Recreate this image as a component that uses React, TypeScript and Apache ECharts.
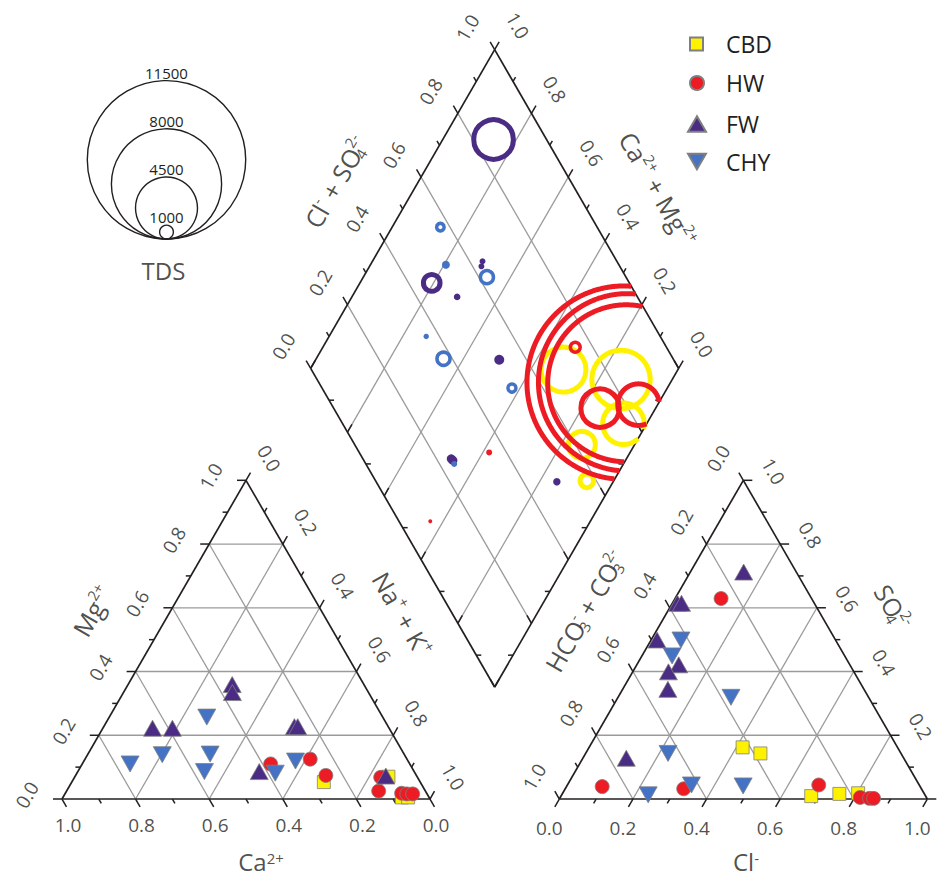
import React, { useEffect, useRef } from "react";
import * as echarts from "echarts";

// ---------------- DATA ----------------
const GROUPS = ["CBD", "HW", "FW", "CHY"];

// Cation triangle: [Ca2+, Mg2+, Na+ + K+] (fractions)
const CBD_CATIONS = [[0.262, 0.053, 0.685], [0.078, 0.070, 0.852], [0.074, 0.005, 0.921], [0.057, 0.005, 0.938]];
const HW_CATIONS = [[0.378, 0.110, 0.512], [0.263, 0.125, 0.612], [0.246, 0.074, 0.680], [0.100, 0.068, 0.832], [0.127, 0.025, 0.848], [0.068, 0.018, 0.914], [0.055, 0.016, 0.929], [0.039, 0.016, 0.945]];
const FW_CATIONS = [[0.358, 0.359, 0.283], [0.370, 0.334, 0.296], [0.643, 0.222, 0.135], [0.589, 0.222, 0.189], [0.255, 0.227, 0.518], [0.246, 0.227, 0.527], [0.421, 0.086, 0.493], [0.084, 0.072, 0.844]];
const CHY_CATIONS = [[0.478, 0.257, 0.265], [0.760, 0.110, 0.130], [0.658, 0.139, 0.203], [0.527, 0.141, 0.332], [0.570, 0.086, 0.344], [0.306, 0.119, 0.575], [0.380, 0.081, 0.539]];

// Anion triangle: [HCO3- + CO3 2-, SO4 2-, Cl-]
const CBD_ANIONS = [[0.421, 0.162, 0.417], [0.382, 0.143, 0.475], [0.311, 0.009, 0.680], [0.231, 0.016, 0.753], [0.179, 0.018, 0.803]];
const HW_ANIONS = [[0.246, 0.629, 0.125], [0.864, 0.039, 0.097], [0.646, 0.032, 0.322], [0.273, 0.044, 0.683], [0.180, 0.005, 0.815], [0.156, 0.002, 0.842], [0.145, 0.002, 0.853]];
const FW_ANIONS = [[0.143, 0.712, 0.145], [0.372, 0.614, 0.014], [0.361, 0.614, 0.025], [0.485, 0.499, 0.016], [0.465, 0.421, 0.114], [0.504, 0.399, 0.097], [0.533, 0.344, 0.123], [0.754, 0.128, 0.118]];
const CHY_ANIONS = [[0.420, 0.499, 0.081], [0.469, 0.449, 0.082], [0.374, 0.319, 0.307], [0.633, 0.143, 0.224], [0.752, 0.013, 0.235], [0.619, 0.044, 0.337], [0.480, 0.041, 0.479]];

// Diamond: [Cl- + SO4 2-, Ca2+ + Mg2+, TDS (mg/L)]
const CBD_DIAMOND = [[0.685, 0.311, 3630], [0.826, 0.139, 4600], [0.763, 0.063, 3380], [0.617, 0.143, 2320], [0.574, 0.073, 1350]];
const HW_DIAMOND = [[0.828, 0.127, 14400], [0.838, 0.118, 13240], [0.834, 0.119, 11760], [0.724, 0.151, 3150], [0.834, 0.052, 3380], [0.752, 0.314, 970], [0.353, 0.383, 435], [0.085, 0.435, 290]];
const FW_DIAMOND = [[0.856, 0.862, 3240], [0.463, 0.805, 1570], [0.635, 0.701, 435], [0.624, 0.696, 435], [0.510, 0.714, 480], [0.526, 0.501, 725], [0.240, 0.476, 650], [0.242, 0.469, 650], [0.491, 0.153, 540]];
const CHY_DIAMOND = [[0.574, 0.869, 800], [0.530, 0.795, 580], [0.622, 0.664, 1205], [0.364, 0.736, 390], [0.376, 0.654, 1205], [0.516, 0.422, 840], [0.240, 0.460, 435]];

const TDS_LEVELS = [1000, 4500, 8000, 11500];

const TICK_LABELS = [0, 0.2, 0.4, 0.6, 0.8, 1.0];
const TICK_STEPS = [0, 0.1, 0.2, 0.3, 0.4, 0.5, 0.6, 0.7, 0.8, 0.9, 1.0];
const GRID_VALUES = [0.2, 0.4, 0.6, 0.8];

// ---------------- STYLE / GEOMETRY ----------------
const FONT = "'Open Sans', 'Noto Sans', 'DejaVu Sans', sans-serif";
const INK = "#231F20";
const GRID_GRAY = "#9B9B9B";
const COLORS: any = { CBD: "#FFF200", HW: "#ED1C24", FW: "#4B2C85", CHY: "#4472C4" };

const WIDTH = 938, HEIGHT = 877;
const S = 368; // pixels per unit side
const OX = 62, OY = 799; // pixel position of the cation triangle's lower-left corner
const G = 0.3514; // gap between triangles (in side units)
const H = Math.sqrt(3) / 2;
const TDS_PX = 79.2 / 11500; // radius in px per mg/L

const cat = (ca: number, mg: number, na: number) => [na + 0.5 * mg, H * mg];
const an = (hco3: number, so4: number, cl: number) => [1 + G + cl + 0.5 * so4, H * so4];
const BX = 1 + G / 2, BY = G * H;
const dia = (a: number, b: number) => [BX + 0.5 * (a - b), BY + H * (a + b)];
const px2u = (x: number, y: number) => [(x - OX) / S, (OY - y) / S];
const off = (p: number[], dx: number, dy: number) => [p[0] + dx / S, p[1] - dy / S];

function insidePoly(poly: number[][], x: number, y: number) {
  let sign = 0;
  for (let i = 0; i < poly.length; i++) {
    const [x1, y1] = poly[i];
    const [x2, y2] = poly[(i + 1) % poly.length];
    const cr = (x2 - x1) * (y - y1) - (y2 - y1) * (x - x1);
    if (cr !== 0) {
      const s = cr > 0 ? 1 : -1;
      if (sign === 0) sign = s;
      else if (s !== sign) return false;
    }
  }
  return true;
}

function buildOption() {
  const gridSegs: number[][] = [];
  const outlineSegs: number[][] = [];
  const tickSegs: number[][] = [];

  GRID_VALUES.forEach((v) => {
    gridSegs.push([...cat(1 - v, v, 0), ...cat(0, v, 1 - v)]);
    gridSegs.push([...cat(1 - v, 0, v), ...cat(0, 1 - v, v)]);
    gridSegs.push([...cat(v, 1 - v, 0), ...cat(v, 0, 1 - v)]);
    gridSegs.push([...an(1 - v, v, 0), ...an(0, v, 1 - v)]);
    gridSegs.push([...an(1 - v, 0, v), ...an(0, 1 - v, v)]);
    gridSegs.push([...an(v, 1 - v, 0), ...an(v, 0, 1 - v)]);
    gridSegs.push([...dia(v, 0), ...dia(v, 1)]);
    gridSegs.push([...dia(0, v), ...dia(1, v)]);
  });

  const polyline = (pts: number[][]) => {
    for (let i = 0; i < pts.length - 1; i++) outlineSegs.push([...pts[i], ...pts[i + 1]]);
  };
  polyline([cat(1, 0, 0), cat(0, 0, 1), cat(0, 1, 0), cat(1, 0, 0)]);
  polyline([an(1, 0, 0), an(0, 0, 1), an(0, 1, 0), an(1, 0, 0)]);
  polyline([dia(0, 0), dia(1, 0), dia(1, 1), dia(0, 1), dia(0, 0)]);

  const addTicks = (fn: (v: number) => number[], dir: number[], minorDir?: number[]) => {
    TICK_STEPS.forEach((v, i) => {
      const major = i % 2 === 0;
      const len = (major ? 9 : 5) / S;
      const d = !major && minorDir ? minorDir : dir;
      const p = fn(v);
      tickSegs.push([p[0], p[1], p[0] + d[0] * len, p[1] + d[1] * len]);
    });
  };
  addTicks((v) => cat(v, 0, 1 - v), [0.5, -H]);
  addTicks((v) => cat(1 - v, v, 0), [-1, 0]);
  addTicks((v) => cat(0, 1 - v, v), [0.5, H]);
  addTicks((v) => an(1 - v, 0, v), [-0.5, -H]);
  addTicks((v) => an(v, 1 - v, 0), [-0.5, H]);
  addTicks((v) => an(0, v, 1 - v), [1, 0]);
  addTicks((v) => dia(v, 1), [-0.5, H]);
  addTicks((v) => dia(1, v), [0.5, H]);
  addTicks((v) => dia(0, v), [0.5, H], [1, 0]);
  addTicks((v) => dia(v, 0), [-0.5, H], [-1, 0]);

  const segSeries = (data: number[][], stroke: string, lw: number, z: number) => ({
    type: "custom",
    coordinateSystem: "cartesian2d",
    silent: true,
    clip: false,
    z,
    encode: { x: [0, 2], y: [1, 3] },
    data,
    renderItem: (_p: any, api: any) => {
      const a = api.coord([api.value(0), api.value(1)]);
      const b = api.coord([api.value(2), api.value(3)]);
      return {
        type: "line",
        shape: { x1: a[0], y1: a[1], x2: b[0], y2: b[1] },
        style: { stroke, lineWidth: lw, lineCap: "butt" },
      };
    },
  });

  // labels
  const labels: any[] = [];
  const addTickLabels = (fn: (v: number) => number[], dx: number, dy: number, rot: number, skipZero = false) => {
    TICK_LABELS.forEach((v) => {
      if (skipZero && v === 0) return;
      labels.push({ pos: off(fn(v), dx, dy), text: v.toFixed(1), rot });
    });
  };
  addTickLabels((v) => cat(v, 0, 1 - v), 6, 26, 0);
  addTickLabels((v) => cat(1 - v, v, 0), -35, -4, 60);
  addTickLabels((v) => cat(0, 1 - v, v), 23, -22, -60);
  addTickLabels((v) => an(1 - v, 0, v), -10, 29, 0);
  addTickLabels((v) => an(v, 1 - v, 0), -25, -22, 60);
  addTickLabels((v) => an(0, v, 1 - v), 30, -9, -60, true);
  addTickLabels((v) => dia(v, 1), -27, -22, 60);
  addTickLabels((v) => dia(1, v), 23, -24, -60);

  const titles = [
    { pos: px2u(261, 861), text: "{n|Ca}{q|2+}", rot: 0 },
    { pos: px2u(746, 861), text: "{n|Cl}{q|-}", rot: 0 },
    { pos: px2u(92.5, 611), text: "{m|Mg}{p|2+}", rot: 60 },
    { pos: px2u(402.5, 614), text: "{m|Na}{p|+}{m| + K}{p|+}", rot: -60 },
    { pos: px2u(585, 611), text: "{m|HCO}{bz|3}{p|-}{m| + CO}{bz|3}{p|2-}", rot: 60 },
    { pos: px2u(893, 606.7), text: "{m|SO}{bz|4}{p|2-}", rot: -60 },
    { pos: px2u(336, 182), text: "{m|Cl}{p|-}{m| + SO}{bz|4}{p|2-}", rot: 60 },
    { pos: px2u(658, 189), text: "{m|Ca}{p|2+}{m| + Mg}{p|2+}", rot: -60 },
    { pos: px2u(163.5, 270), text: "{n|TDS}", rot: 0 },
  ];

  const RICH = {
    m: { fontSize: 25, lineHeight: 30, fontFamily: FONT, color: INK },
    p: { fontSize: 15, lineHeight: 15, verticalAlign: "top", fontFamily: FONT, color: INK },
    bz: { fontSize: 15, lineHeight: 15, verticalAlign: "bottom", width: 0, fontFamily: FONT, color: INK },
    n: { fontSize: 24, lineHeight: 22, fontFamily: FONT, color: INK },
    q: { fontSize: 15, lineHeight: 15, verticalAlign: "top", fontFamily: FONT, color: INK },
  };

  const labelSeries = {
    type: "scatter",
    name: "labels",
    silent: true,
    clip: false,
    z: 6,
    symbolSize: 0.01,
    itemStyle: { color: "rgba(0,0,0,0)" },
    label: {
      show: true,
      position: "inside",
      align: "center",
      verticalAlign: "middle",
      color: INK,
      fontFamily: FONT,
      fontSize: 19,
      rich: RICH,
    },
    data: [...labels, ...titles].map((l) => ({
      value: l.pos,
      label: { formatter: l.text, rotate: l.rot },
    })),
  };

  const symbols: any = {
    CBD: { symbol: "rect", size: 13 },
    HW: { symbol: "circle", size: 14 },
    FW: { symbol: "triangle", size: [18, 16] },
    CHY: { symbol: "path://M0,0L10,0L5,8.66Z", size: [18, 16] },
  };
  const cations: any = { CBD: CBD_CATIONS, HW: HW_CATIONS, FW: FW_CATIONS, CHY: CHY_CATIONS };
  const anions: any = { CBD: CBD_ANIONS, HW: HW_ANIONS, FW: FW_ANIONS, CHY: CHY_ANIONS };
  const diamonds: any = { CBD: CBD_DIAMOND, HW: HW_DIAMOND, FW: FW_DIAMOND, CHY: CHY_DIAMOND };

  const markerSeries: any[] = [];
  GROUPS.forEach((g) => {
    const data = [
      ...cations[g].map((t: number[]) => cat(t[0], t[1], t[2])),
      ...anions[g].map((t: number[]) => an(t[0], t[1], t[2])),
    ];
    markerSeries.push({
      type: "scatter",
      name: g,
      silent: true,
      clip: false,
      z: 4,
      symbol: symbols[g].symbol,
      symbolSize: symbols[g].size,
      itemStyle: { color: COLORS[g], borderColor: "#7F7F7F", borderWidth: 0.8, opacity: 1 },
      data,
    });
  });

  const diamondSeries: any[] = GROUPS.map((g) => {
    const color = COLORS[g];
    return {
      type: "custom",
      name: g + " TDS",
      coordinateSystem: "cartesian2d",
      silent: true,
      clip: false,
      z: 3,
      encode: { x: 0, y: 1 },
      data: diamonds[g].map((d: number[]) => [...dia(d[0], d[1]), d[2]]),
      renderItem: (_p: any, api: any) => {
        const c = api.coord([api.value(0), api.value(1)]);
        const rOut = TDS_PX * api.value(2);
        if (rOut < 5.3) {
          return { type: "circle", shape: { cx: c[0], cy: c[1], r: rOut }, style: { fill: color } };
        }
        const lw = rOut >= 9 ? 5 : 3.5;
        const r = rOut - lw / 2;
        const poly = [dia(0, 0), dia(1, 0), dia(1, 1), dia(0, 1)].map((p) => api.coord(p));
        const N = 720;
        const pts: number[][] = [];
        const flags: boolean[] = [];
        for (let i = 0; i < N; i++) {
          const t = (2 * Math.PI * i) / N;
          const x = c[0] + r * Math.cos(t);
          const y = c[1] + r * Math.sin(t);
          pts.push([x, y]);
          flags.push(insidePoly(poly, x, y));
        }
        if (flags.every((f) => f)) {
          return {
            type: "circle",
            shape: { cx: c[0], cy: c[1], r },
            style: { fill: "none", stroke: color, lineWidth: lw },
          };
        }
        const start = flags.indexOf(false);
        const runs: number[][][] = [];
        let cur: number[][] | null = null;
        for (let k = 1; k <= N; k++) {
          const i = (start + k) % N;
          if (flags[i]) {
            if (!cur) cur = [];
            cur.push(pts[i]);
          } else {
            if (cur && cur.length > 1) runs.push(cur);
            cur = null;
          }
        }
        if (cur && cur.length > 1) runs.push(cur);
        return {
          type: "group",
          children: runs.map((run) => ({
            type: "polyline",
            shape: { points: run },
            style: { fill: "none", stroke: color, lineWidth: lw },
          })),
        };
      },
    };
  });

  const tdsAnchor = px2u(166.5, 239);
  const tdsLegendSeries = {
    type: "custom",
    name: "TDS legend",
    coordinateSystem: "cartesian2d",
    silent: true,
    clip: false,
    z: 3,
    encode: { x: 0, y: 1 },
    data: TDS_LEVELS.map((t) => [tdsAnchor[0], tdsAnchor[1], t]),
    renderItem: (_p: any, api: any) => {
      const c = api.coord([api.value(0), api.value(1)]);
      const tds = api.value(2);
      const r = TDS_PX * tds;
      return {
        type: "group",
        children: [
          {
            type: "circle",
            shape: { cx: c[0], cy: c[1] - r, r },
            style: { fill: "none", stroke: INK, lineWidth: 1.4 },
          },
          {
            type: "text",
            style: {
              x: c[0],
              y: c[1] - 2 * r - 8,
              text: String(tds),
              align: "center",
              verticalAlign: "middle",
              fontSize: 15,
              fontFamily: FONT,
              fill: INK,
            },
          },
        ],
      };
    },
  };

  const legendCfg = [
    { name: "CBD", icon: "rect", w: 13, h: 13, left: 689, cy: 44 },
    { name: "HW", icon: "circle", w: 14, h: 14, left: 689, cy: 83 },
    { name: "FW", icon: "triangle", w: 18, h: 15.5, left: 687, cy: 124 },
    { name: "CHY", icon: "path://M0,0L10,0L5,8.66Z", w: 18, h: 15.5, left: 687, cy: 161.5 },
  ];
  const legend = legendCfg.map((l) => ({
    show: true,
    orient: "vertical",
    left: l.left,
    top: l.cy - 13,
    padding: 0,
    itemGap: 0,
    itemWidth: l.w,
    itemHeight: l.h,
    selectedMode: false,
    data: [{ name: l.name, icon: l.icon }],
    textStyle: {
      fontSize: 23,
      lineHeight: 26,
      fontFamily: FONT,
      color: INK,
      padding: [0, 0, 0, 725 - l.left - l.w - 5],
    },
  }));

  return {
    animation: false,
    backgroundColor: "#ffffff",
    grid: { left: 0, right: 0, top: 0, bottom: 0, containLabel: false },
    xAxis: { type: "value", min: -OX / S, max: (WIDTH - OX) / S, show: false },
    yAxis: { type: "value", min: -(HEIGHT - OY) / S, max: OY / S, show: false },
    legend,
    series: [
      ...markerSeries,
      segSeries(gridSegs, GRID_GRAY, 1.3, 1),
      segSeries(outlineSegs, INK, 1.7, 2),
      segSeries(tickSegs, INK, 1.5, 2),
      ...diamondSeries,
      tdsLegendSeries,
      labelSeries,
    ],
  };
}

export default function App() {
  const ref = useRef<HTMLDivElement>(null);
  useEffect(() => {
    const chart = echarts.init(ref.current as HTMLDivElement, undefined, { renderer: "svg" });
    chart.setOption(buildOption() as any);
    return () => chart.dispose();
  }, []);
  return (
    <div
      ref={ref}
      style={{ position: "absolute", left: 0, top: 0, width: WIDTH, height: HEIGHT, background: "#fff" }}
    />
  );
}
